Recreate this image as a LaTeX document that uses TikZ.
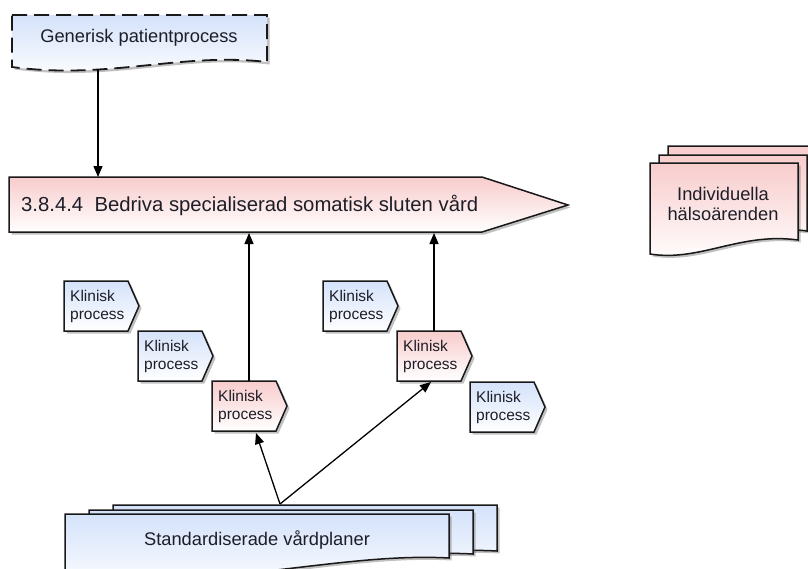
\documentclass[tikz,border=0pt]{standalone}
\usepackage{fontspec}
\setmainfont{Liberation Sans}
\usetikzlibrary{arrows.meta,shadows}
\definecolor{blueT}{RGB}{212,226,250}
\definecolor{pinkT}{RGB}{248,204,204}
\definecolor{edge}{RGB}{25,25,25}
\definecolor{txt}{RGB}{30,30,40}
\tikzset{
  shp/.style={draw=edge, line width=1.5pt, line join=miter,
    drop shadow={shadow xshift=2.5pt, shadow yshift=-2.5pt, opacity=0.35, fill=black!70}},
  bluefill/.style={top color=blueT, bottom color=white},
  pinkfill/.style={top color=pinkT, bottom color=white},
  lbl/.style={font=\fontsize{18.3}{20.5}\selectfont, text=txt, inner sep=0pt, align=center},
  klbl/.style={font=\fontsize{15.5}{18}\selectfont, text=txt, inner sep=0pt, align=left, anchor=west},
  conn/.style={-{Triangle[length=11pt,width=9pt]}, line width=1.3pt, draw=black},
}
\newcommand\kproc[4]{%
  \path[shp,#4] (#2,#3) -- ++(64,0) -- ++(11,25) -- ++(-11,25) -- ++(-64,0) -- cycle;
  \node[klbl] (#1) at (#2+6,#3+25) {Klinisk\\process};
}
\begin{document}
\begin{tikzpicture}[x=1pt,y=-1pt]
\useasboundingbox (0,0) rectangle (808,568);

% Generisk patientprocess (document, dashed)
\path[shp,bluefill,line width=1.8pt,dash pattern=on 15pt off 7pt] (12,15) -- (267,15) -- (267,62)
  .. controls (180,52) and (110,80) .. (12,67) -- cycle;
\node[lbl] (gen) at (139,38) {Generisk patientprocess};
\coordinate (genb) at (98,69);

% Main process arrow
\path[shp,pinkfill] (9,177) -- (482,177) -- (568,205) -- (482,232) -- (9,232) -- cycle;
\node[lbl, font=\fontsize{20.3}{22}\selectfont, anchor=west] (main) at (21,205) {3.8.4.4\ \ Bedriva specialiserad somatisk sluten vård};
\coordinate (maint) at (98,177);
\coordinate (mainb1) at (249,233);
\coordinate (mainb2) at (434,233);

% Individuella hälsoärenden (stacked documents)
\path[shp,pinkfill] (668,146) -- (816,146) -- (816,223)
  .. controls (760,215) and (720,245) .. (668,237) -- cycle;
\path[shp,pinkfill] (659,155) -- (807,155) -- (807,231)
  .. controls (750,223) and (710,253) .. (659,245) -- cycle;
\path[shp,pinkfill] (650,163) -- (798,163) -- (798,240)
  .. controls (740,232) and (700,262) .. (650,254) -- cycle;
\node[lbl] (ind) at (723,204) {Individuella\\hälsoärenden};

% Klinisk process shapes
\kproc{k1}{64}{281}{bluefill}
\kproc{k2}{138}{331}{bluefill}
\kproc{k3}{212}{381}{pinkfill}
\kproc{k4}{323}{281}{bluefill}
\kproc{k5}{397}{331}{pinkfill}
\kproc{k6}{470}{382}{bluefill}
\coordinate (k3t) at (249,381);
\coordinate (k5t) at (434,331);
\coordinate (k3b) at (256,433);
\coordinate (k5b) at (431,382);

% Standardiserade vårdplaner (stacked documents)
\path[shp,bluefill] (113,505) -- (497,505) -- (497,551)
  .. controls (380,545) and (260,580) .. (113,566) -- cycle;
\path[shp,bluefill] (89,510) -- (473,510) -- (473,554)
  .. controls (360,548) and (240,585) .. (89,572) -- cycle;
\path[shp,bluefill] (65,514) -- (449,514) -- (449,558)
  .. controls (340,552) and (220,590) .. (65,578) -- cycle;
\node[lbl] (std) at (257,540) {Standardiserade vårdplaner};
\coordinate (stdt) at (280,504);

% Connectors
\draw[conn] (genb) -- (maint);
\draw[conn] (k3t) -- (mainb1);
\draw[conn] (k5t) -- (mainb2);
\draw[conn] (stdt) -- (k3b);
\draw[conn] (stdt) -- (k5b);
\end{tikzpicture}
\end{document}
